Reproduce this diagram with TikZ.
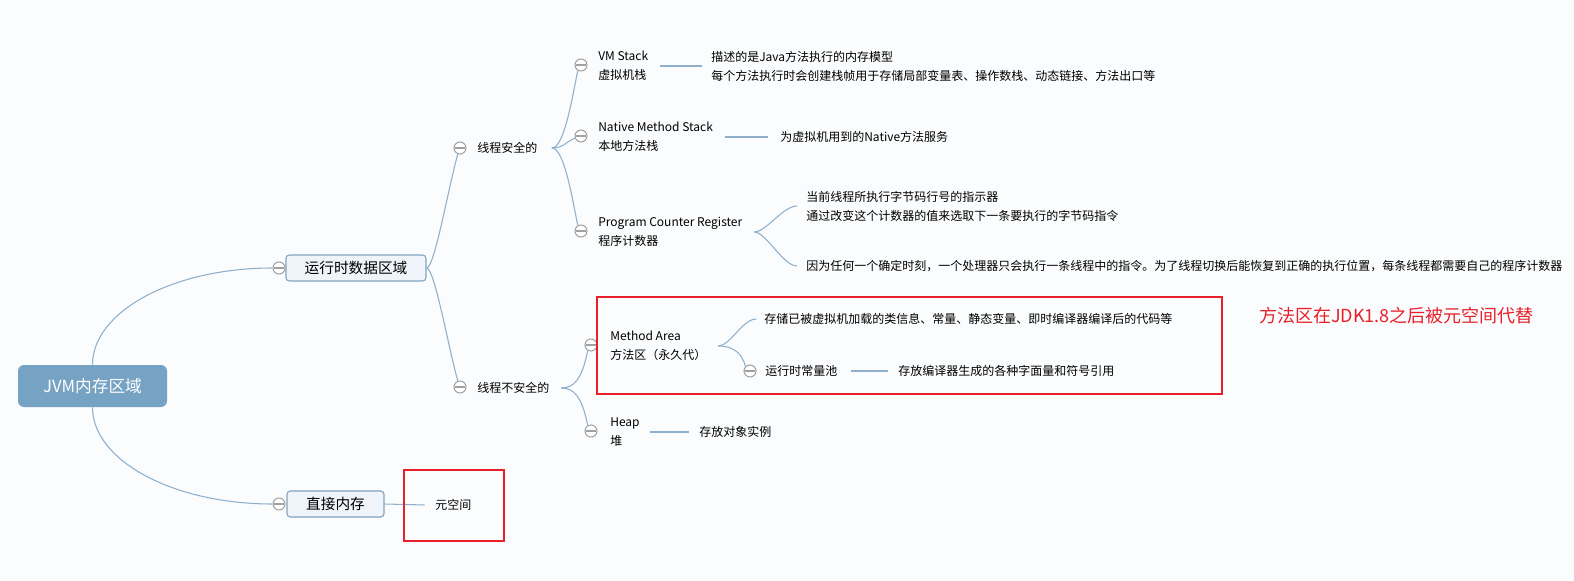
\documentclass[tikz,border=0pt]{standalone}
\usepackage{fontspec}
\setmainfont{Noto Sans CJK SC}
\usetikzlibrary{calc}

\definecolor{bgc}{RGB}{251,252,253}
\definecolor{linkc}{RGB}{143,176,204}
\definecolor{rootc}{RGB}{118,162,195}
\definecolor{boxfill}{RGB}{238,244,249}
\definecolor{boxline}{RGB}{126,163,193}
\definecolor{knobc}{RGB}{160,160,160}
\definecolor{notec}{RGB}{232,32,42}

\begin{document}
\begin{tikzpicture}[x=0.75pt,y=0.75pt,yscale=-1,xscale=1,
  link/.style={draw=linkc, line width=0.8pt},
  knob/.style={circle, draw=knobc, fill=white, line width=0.8pt, minimum size=9pt, inner sep=0pt,
    path picture={\draw[knobc, line width=0.8pt] ([xshift=1pt]path picture bounding box.west) -- ([xshift=-1pt]path picture bounding box.east);}},
  rootbox/.style={rectangle, rounded corners=4.5pt, fill=rootc, text=white, minimum width=111.75pt, minimum height=31.5pt, font=\fontsize{12.5}{15}\selectfont},
  topbox/.style={rectangle, rounded corners=2.5pt, draw=boxline, fill=boxfill, line width=0.8pt, minimum height=19.5pt, font=\fontsize{11}{13}\selectfont},
  leaf/.style={anchor=west, inner sep=0.75pt, align=left, font=\fontsize{9}{14.25}\selectfont},
  note/.style={anchor=west, inner sep=0.75pt, text=notec, font=\fontsize{13.5}{16}\selectfont},
  redframe/.style={draw=notec, line width=1.5pt}]
%set diagram size 1574 x 581
\path[fill=bgc] (0,0) rectangle (1574,581);

% Root and first level
\node[rootbox] (jvm) at (92.5,386) {JVM内存区域};
\node[topbox, minimum width=105pt] (rt) at (356,268) {运行时数据区域};
\node[topbox, minimum width=72.75pt] (dm) at (335.5,504) {直接内存};
\node[knob] (krt) at (279,268) {};
\node[knob] (kdm) at (279,504) {};

% Thread safe / unsafe
\node[knob] (ksafe) at (460,148) {};
\node[leaf] (safe) at (476,148) {线程安全的};
\node[knob] (kunsafe) at (460,387) {};
\node[leaf] (unsafe) at (476,388) {线程不安全的};

% VM Stack
\node[knob] (kvm) at (581,65) {};
\node[leaf] (vm) at (597,66) {VM Stack\\虚拟机栈};
\node[leaf] (vmd) at (710,66) {描述的是Java方法执行的内存模型\\每个方法执行时会创建栈帧用于存储局部变量表、操作数栈、动态链接、方法出口等};

% Native Method Stack
\node[knob] (knat) at (581,136) {};
\node[leaf] (nat) at (597,137) {Native Method Stack\\本地方法栈};
\node[leaf] (natd) at (779,137) {为虚拟机用到的Native方法服务};

% Program Counter Register
\node[knob] (kpc) at (581,231) {};
\node[leaf] (pc) at (597,232) {Program Counter Register\\程序计数器};
\node[leaf] (pca) at (805,206) {当前线程所执行字节码行号的指示器\\通过改变这个计数器的值来选取下一条要执行的字节码指令};
\node[leaf] (pcb) at (805,266) {因为任何一个确定时刻，一个处理器只会执行一条线程中的指令。为了线程切换后能恢复到正确的执行位置，每条线程都需要自己的程序计数器};

% Method Area
\node[knob] (kma) at (591,345) {};
\node[leaf] (ma) at (609,346) {Method Area\\方法区（永久代）};
\node[leaf] (mad) at (763,319) {存储已被虚拟机加载的类信息、常量、静态变量、即时编译器编译后的代码等};
\node[knob] (kpool) at (750,371) {};
\node[leaf] (pool) at (764,371) {运行时常量池};
\node[leaf] (poold) at (897,371) {存放编译器生成的各种字面量和符号引用};

% Heap
\node[knob] (kheap) at (591,431) {};
\node[leaf] (heap) at (609,432) {Heap\\堆};
\node[leaf] (heapd) at (698,432) {存放对象实例};

% Direct memory
\node[leaf] (meta) at (434,505) {元空间};
\node[note] (nt) at (1258,316) {方法区在JDK1.8之后被元空间代替};

% fan points
\coordinate (safeo) at ([xshift=10pt]safe.east);
\coordinate (unsafeo) at ([xshift=8pt]unsafe.east);
\coordinate (pco) at ([xshift=8pt]pc.east);
\coordinate (mao) at ([xshift=8pt]ma.east);

% Connectors
\draw[link] (jvm.north) .. controls +(0,-53) and +(-100,0) .. (krt.west);
\draw[link] (jvm.south) .. controls +(0,53) and +(-100,0) .. (kdm.west);
\draw[link] (rt.east) .. controls +(8,0) and +(-10,36) .. (ksafe.250);
\draw[link] (rt.east) .. controls +(8,0) and +(-10,-36) .. (kunsafe.110);

\draw[link] (safeo) .. controls +(12,0) and +(-6,30) .. (kvm.240);
\draw[link] (safeo) .. controls +(12,0) and +(-10,4) .. (knat.200);
\draw[link] (safeo) .. controls +(12,0) and +(-6,-30) .. (kpc.120);
\draw[link] ([xshift=8pt]vm.east) -- ([xshift=-6pt]vmd.west);
\draw[link] ([xshift=8pt]nat.east) -- ([xshift=-8pt]natd.west);
\draw[link] (pco) .. controls +(12,0) and +(-14,0) .. ([xshift=-6pt]pca.west);
\draw[link] (pco) .. controls +(12,0) and +(-14,0) .. ([xshift=-6pt]pcb.west);

\draw[link] (unsafeo) .. controls +(12,0) and +(-6,30) .. (kma.240);
\draw[link] (unsafeo) .. controls +(12,0) and +(-6,-30) .. (kheap.120);
\draw[link] (mao) .. controls +(12,0) and +(-14,0) .. ([xshift=-5pt]mad.west);
\draw[link] (mao) .. controls +(12,0) and +(-4,-16) .. (kpool.135);
\draw[link] ([xshift=9pt]pool.east) -- ([xshift=-7pt]poold.west);
\draw[link] ([xshift=7pt]heap.east) -- ([xshift=-7pt]heapd.west);
\draw[link] (dm.east) -- ([xshift=-7pt]meta.west);

% Red marks
\draw[redframe] (597,297) rectangle (1222,394);
\draw[redframe] (404,470) rectangle (504,541);

\end{tikzpicture}
\end{document}
